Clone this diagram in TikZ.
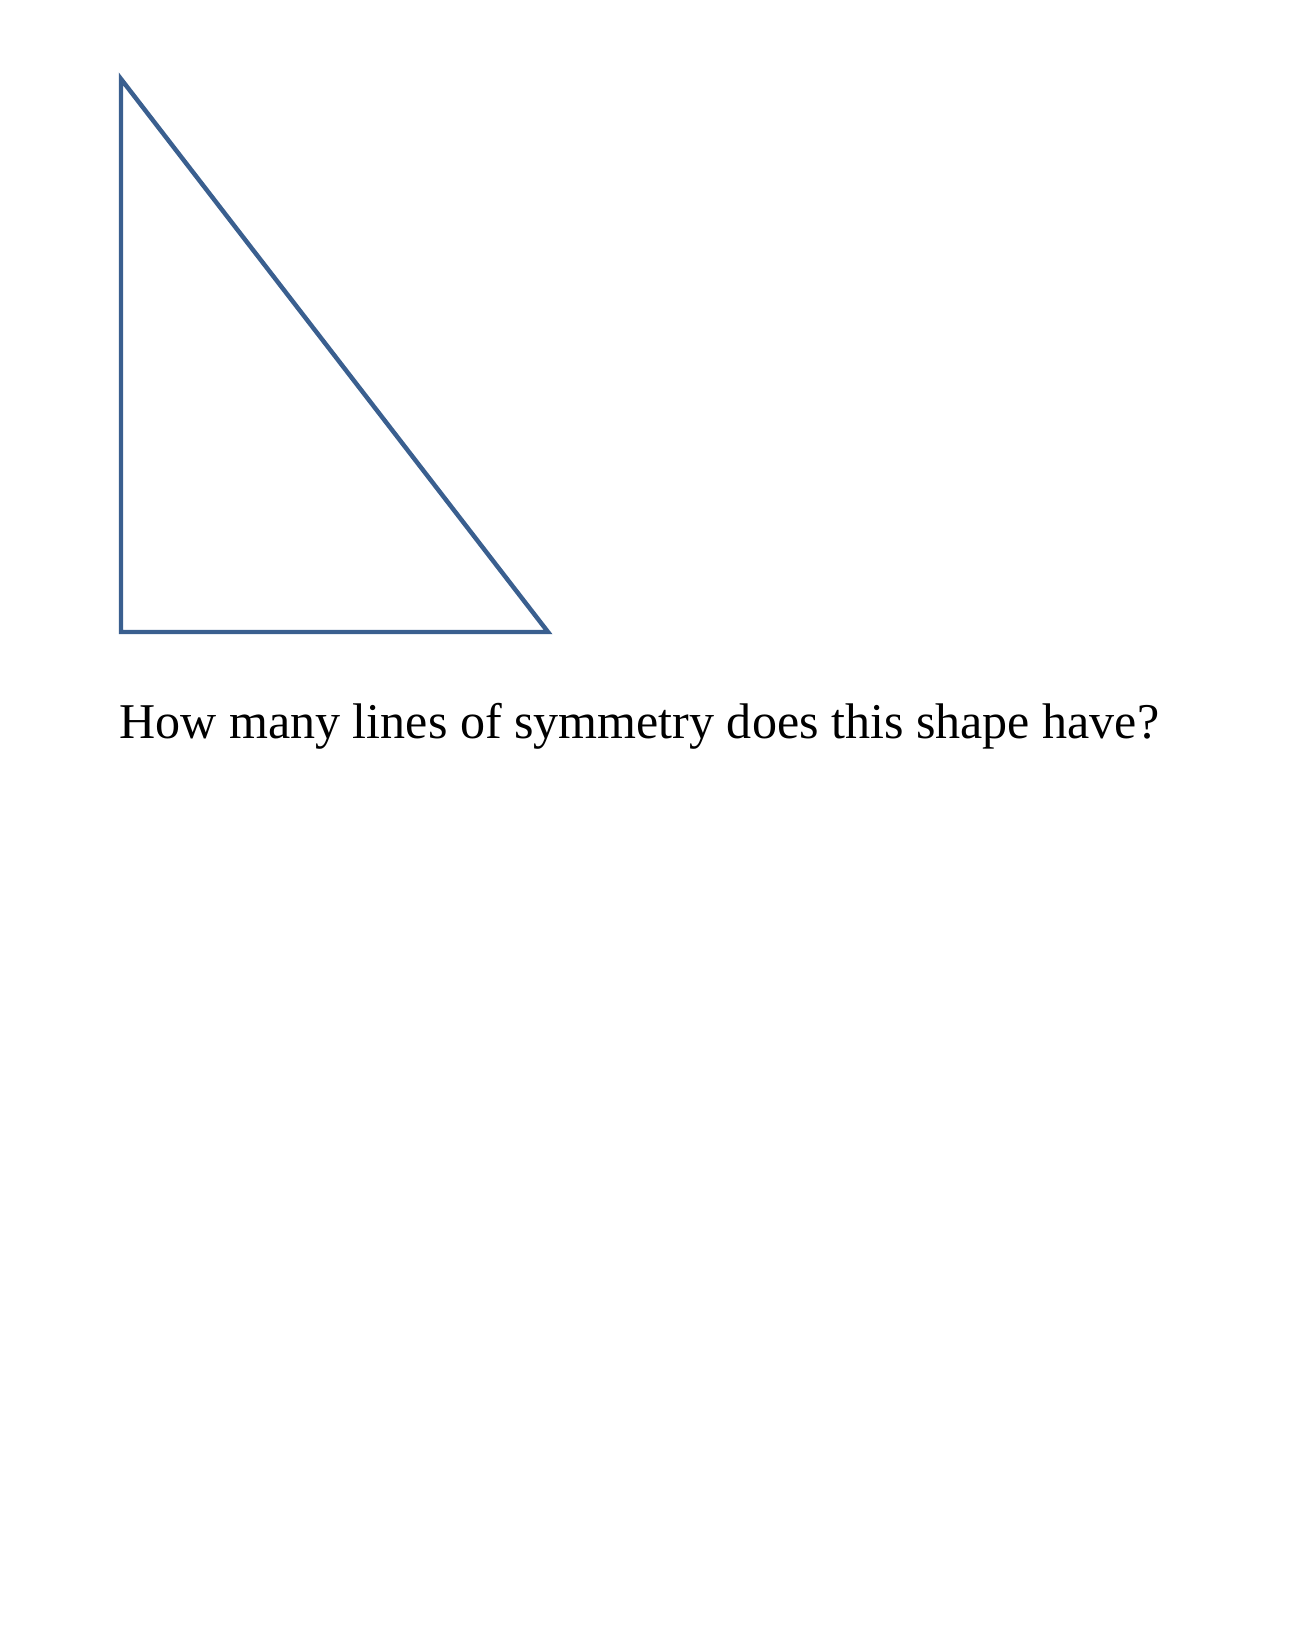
\documentclass[tikz,border=0pt]{standalone}
\usepackage{fontspec}
\setmainfont{Liberation Serif}
\usepackage{xcolor}
\usetikzlibrary{positioning}
\definecolor{tblue}{HTML}{3A5F8F}

\begin{document}
\begin{tikzpicture}[x=0.4715pt, y=0.4715pt]
\useasboundingbox (0,0) rectangle (1298,1652);
\coordinate (apex) at (121,1573);
\coordinate (corner) at (121,1020);
\coordinate (foot) at (548,1020);
\draw[tblue, line width=2.1pt, line join=miter] (apex) -- (corner) -- (foot) -- cycle;
\node[font=\fontsize{23.6}{28}\selectfont, anchor=base west, inner sep=0pt]
  (question) at (119,913) {How many lines of symmetry does this shape have?};
\end{tikzpicture}
\end{document}
